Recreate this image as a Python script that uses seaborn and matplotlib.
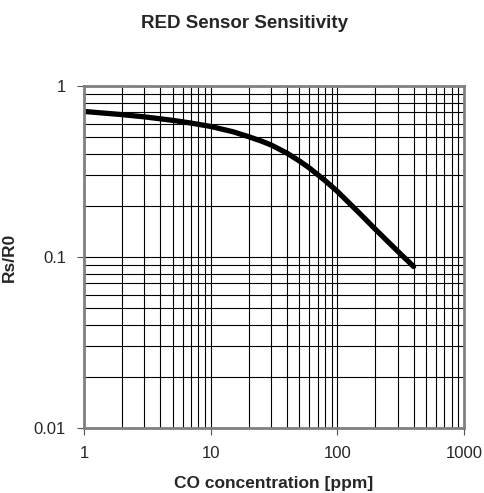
import matplotlib
matplotlib.use("Agg")
import matplotlib.pyplot as plt
import seaborn as sns
import numpy as np
import pandas as pd
from matplotlib.ticker import LogLocator, FixedLocator, FixedFormatter, NullFormatter

co_ppm = [1, 2, 3, 5, 7, 10, 15, 20, 25, 30, 40, 50, 60, 80, 100, 150, 200, 300, 400]
rs_r0 = [0.71, 0.68, 0.66, 0.63, 0.607, 0.58, 0.54, 0.505, 0.477, 0.452, 0.405, 0.365, 0.332, 0.28, 0.242, 0.18, 0.145, 0.108, 0.088]
x_ticks = [1, 10, 100, 1000]
x_tick_labels = ["1", "10", "100", "1000"]
y_ticks = [0.01, 0.1, 1]
y_tick_labels = ["0.01", "0.1", "1"]

sns.set_style("white")
plt.rcParams['font.family'] = ['Liberation Sans', 'DejaVu Sans']

df = pd.DataFrame({"x": co_ppm, "y": rs_r0})

fig = plt.figure(figsize=(4.85, 4.93), dpi=100)
ax = fig.add_axes([84/485, 1-428/493, (464-84)/485, (428-86)/493])
ax.set_xscale("log")
ax.set_yscale("log")
ax.set_xlim(1, 1000)
ax.set_ylim(0.01, 1)

ax.xaxis.set_major_locator(FixedLocator(x_ticks))
ax.xaxis.set_major_formatter(FixedFormatter(x_tick_labels))
ax.yaxis.set_major_locator(FixedLocator(y_ticks))
ax.yaxis.set_major_formatter(FixedFormatter(y_tick_labels))
ax.xaxis.set_minor_locator(LogLocator(base=10, subs=np.arange(2, 10)))
ax.yaxis.set_minor_locator(LogLocator(base=10, subs=np.arange(2, 10)))
ax.xaxis.set_minor_formatter(NullFormatter())
ax.yaxis.set_minor_formatter(NullFormatter())

ax.grid(True, which="both", color="black", linewidth=0.8)
ax.set_axisbelow(True)

sns.lineplot(data=df, x="x", y="y", ax=ax, color="black", linewidth=3.8, legend=False)

ax.tick_params(which="major", direction="out", length=5, width=0.8, color="#555555",
               labelsize=12, pad=8, bottom=True, left=True)
ax.tick_params(which="minor", length=0)
for s in ax.spines.values():
    s.set_color("#808080")
    s.set_linewidth(2)

ax.set_xlabel("CO concentration [ppm]", fontsize=12.5, fontweight="bold", labelpad=11)
ax.set_ylabel("Rs/R0", fontsize=12.5, fontweight="bold", labelpad=12)
fig.suptitle("RED Sensor Sensitivity", x=0.505, y=1-23/493, fontsize=13.5, fontweight="bold", va="center")

fig.savefig("out.png", dpi=100)
